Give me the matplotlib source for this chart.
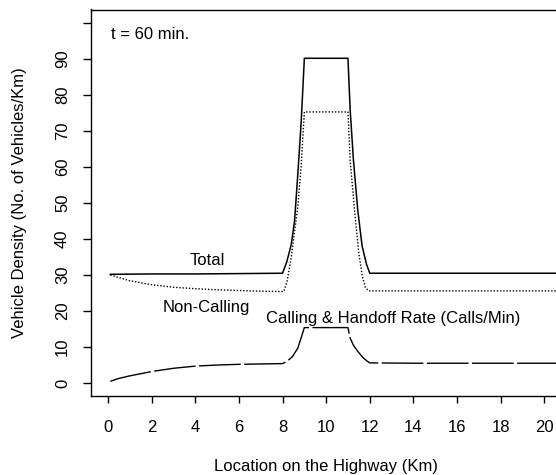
import matplotlib
matplotlib.use("Agg")
import matplotlib.pyplot as plt

plt.rcParams['font.family'] = ['Liberation Sans', 'DejaVu Sans']

# Total vehicle density
x_total = [0.1, 2, 4, 6, 8.0, 8.2, 8.4, 8.55, 8.7, 8.85, 9.0, 10.0, 11.0,
           11.1, 11.25, 11.45, 11.65, 11.85, 12.0, 14, 16, 18, 20, 21.5]
y_total = [30.2, 30.3, 30.3, 30.4, 30.5, 33.8, 38.5, 45.0, 58.0, 72.0, 90.2, 90.2, 90.2,
           76.0, 62.0, 48.0, 38.0, 33.0, 30.5, 30.5, 30.5, 30.5, 30.5, 30.5]

# Non-calling vehicle density
x_noncall = [0.1, 1, 2, 3, 4, 5, 6, 7, 8.05, 8.2, 8.4, 8.55, 8.7, 8.85, 9.0, 10.0, 11.0,
             11.1, 11.3, 11.5, 11.65, 11.8, 11.95, 14, 16, 18, 20, 21.5]
y_noncall = [30.0, 28.4, 27.3, 26.6, 26.2, 25.9, 25.7, 25.5, 25.4, 28.0, 35.0, 42.0, 49.0, 60.0,
             75.3, 75.3, 75.3, 62.0, 48.0, 36.0, 30.0, 26.5, 25.6, 25.6, 25.6, 25.6, 25.6, 25.6]

# Calling & handoff rate
x_call = [0.1, 0.5, 1, 1.5, 2, 3, 4, 5, 6, 7, 8.0, 8.2, 8.45, 8.7, 8.85, 9.0, 10.0, 11.0,
          11.1, 11.25, 11.45, 11.7, 11.9, 12.0, 14, 16, 18, 20, 21.5]
y_call = [0.5, 1.3, 2.0, 2.6, 3.2, 4.1, 4.7, 5.0, 5.2, 5.3, 5.4, 6.0, 7.3, 9.7, 12.5, 15.4,
          15.4, 15.4, 12.5, 10.5, 8.8, 7.0, 6.0, 5.6, 5.5, 5.5, 5.5, 5.5, 5.5]

x_ticks = [0, 2, 4, 6, 8, 10, 12, 14, 16, 18, 20]
y_ticks = [0, 10, 20, 30, 40, 50, 60, 70, 80, 90, 100]
y_ticklabels = ['0', '10', '20', '30', '40', '50', '60', '70', '80', '90', '']

W, H = 556, 475
fig = plt.figure(figsize=(W / 100, H / 100), dpi=100)
ax_left, ax_top, ax_bottom = 90.5, 9.5, 396.0
ax_w = (21.5 + 0.81) * 21.8
ax = fig.add_axes([ax_left / W, 1 - ax_bottom / H, ax_w / W, (ax_bottom - ax_top) / H])

ax.plot(x_total, y_total, color='black', lw=1.1, solid_joinstyle='miter')
ax.plot(x_noncall, y_noncall, color='black', lw=1.0, linestyle=(0, (1, 1.3)))
ax.plot(x_call, y_call, color='black', lw=1.0, linestyle=(0, (30, 2.5)))

ax.set_xlim(-0.81, 21.5)
ax.set_ylim(-3.6, 103.75)
ax.set_xticks(x_ticks)
ax.set_xticklabels([str(v) for v in x_ticks])
ax.set_yticks(y_ticks)
ax.set_yticklabels(y_ticklabels, rotation=90, va='center')
ax.tick_params(axis='x', length=5, width=1, pad=12, labelsize=12)
ax.tick_params(axis='y', length=5.8, width=1, pad=9, labelsize=12)
for s in ax.spines.values():
    s.set_linewidth(1.0)
ax.spines['right'].set_visible(False)

fs = 12
ax.text(0.15, 96.9, 't = 60 min.', ha='left', va='center', fontsize=fs)
ax.text(4.54, 34.0, 'Total', ha='center', va='center', fontsize=fs)
ax.text(4.51, 21.0, 'Non-Calling', ha='center', va='center', fontsize=fs)
ax.text(7.22, 18.0, 'Calling & Handoff Rate (Calls/Min)', ha='left', va='center', fontsize=fs)

fig.text(20 / W, 1 - 202.7 / H, 'Vehicle Density (No. of Vehicles/Km)', rotation=90,
         ha='center', va='center', fontsize=12)
fig.text(326 / W, 1 - 466.7 / H, 'Location on the Highway (Km)', ha='center', va='center',
         fontsize=12)

fig.savefig('out.png', dpi=100)
